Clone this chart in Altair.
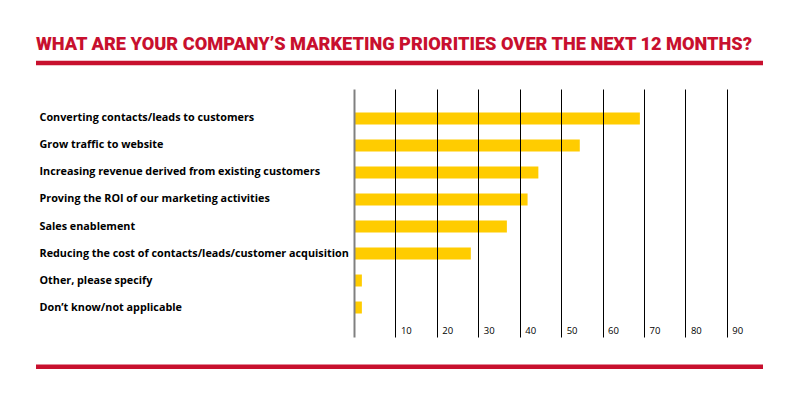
import altair as alt
import pandas as pd

categories = [
    "Converting contacts/leads to customers",
    "Grow traffic to website",
    "Increasing revenue derived from existing customers",
    "Proving the ROI of our marketing activities",
    "Sales enablement",
    "Reducing the cost of contacts/leads/customer acquisition",
    "Other, please specify",
    "Don’t know/not applicable",
]
values = [69.0, 54.5, 44.5, 41.9, 36.9, 28.2, 1.9, 1.9]
tick_values = [10, 20, 30, 40, 50, 60, 70, 80, 90]
title_text = "WHAT ARE YOUR COMPANY’S MARKETING PRIORITIES OVER THE NEXT 12 MONTHS?"

df = pd.DataFrame({"category": categories, "value": values})
title_df = pd.DataFrame({"t": [title_text]})
one = pd.DataFrame({"k": [0]})

RED = "#C8102E"

bars = alt.Chart(df).mark_bar(color="#FFCC00").encode(
    x=alt.X(
        "value:Q",
        scale=alt.Scale(domain=[0, 98], nice=False, zero=True),
        axis=alt.Axis(
            values=tick_values, title=None, grid=True, gridColor="black",
            gridWidth=1, gridOpacity=1, domain=False, ticks=False, tickSize=0,
            labelAlign="left", labelBaseline="middle", labelOffset=5,
            labelPadding=-7, labelFont="Open Sans", labelFontSize=9.5,
            labelColor="black", labelFlush=False, labelOverlap=False, zindex=1,
        ),
    ),
    y=alt.Y(
        "category:N", sort=categories,
        scale=alt.Scale(paddingInner=0.556, paddingOuter=0.87),
        axis=alt.Axis(
            title=None, domain=True, domainColor="#808080", domainWidth=2,
            ticks=False, tickSize=0, labelAlign="left", labelPadding=315,
            labelFont="Open Sans", labelFontSize=10.8, labelFontWeight="bold",
            labelColor="black", labelLimit=0, zindex=1,
        ),
    ),
)

title_layer = alt.Chart(title_df).mark_text(
    align="left", baseline="alphabetic", font="Roboto", fontSize=18.2,
    fontWeight=900, color=RED,
).encode(x=alt.value(-318), y=alt.value(-39.5), text="t:N")

rule_top = alt.Chart(one).mark_rule(color=RED, strokeWidth=4.5).encode(
    x=alt.value(-318), x2=alt.value(409), y=alt.value(-26)
)
rule_bottom = alt.Chart(one).mark_rule(color=RED, strokeWidth=4.5).encode(
    x=alt.value(-318), x2=alt.value(409), y=alt.value(277.7)
)

chart = alt.layer(bars, title_layer, rule_top, rule_bottom).properties(
    width=406, height=248,
    autosize=alt.AutoSizeParams(type="none"),
    padding={"left": 346, "top": 81, "right": 30, "bottom": 55},
).configure_view(stroke=None)

chart.save("out.html", embed_options={"renderer": "svg", "actions": False})
